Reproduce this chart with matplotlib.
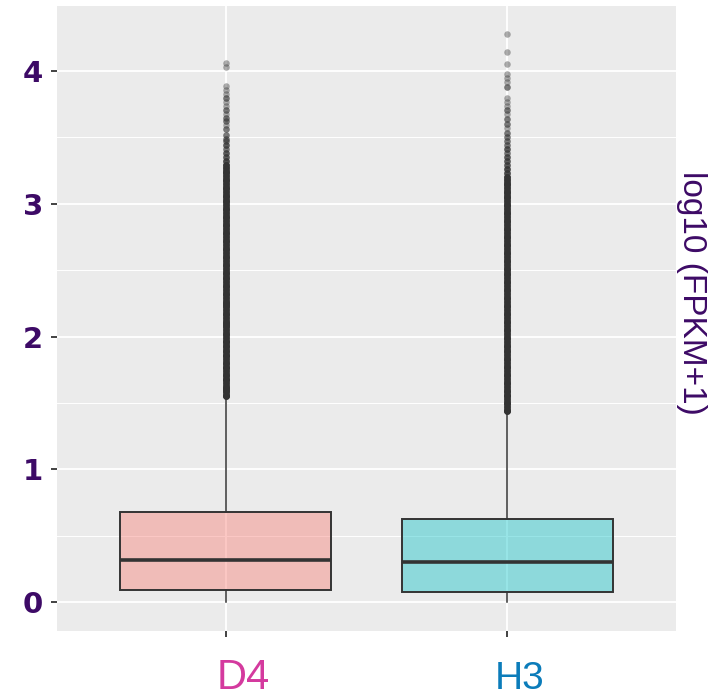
import numpy as np
import matplotlib
matplotlib.use("Agg")
import matplotlib.pyplot as plt

# log10(FPKM+1) summary per sample
samples = ["D4", "H3"]
q1 = [0.09, 0.075]
medians = [0.316, 0.30]
q3 = [0.678, 0.625]
whis_lo = [0.0, 0.0]
whis_hi = [1.545, 1.43]

# outlying genes (value, how many genes sit at that value)
d4_out = [1.55, 1.56, 1.58, 1.60, 1.61, 1.63, 1.65, 1.67, 1.68, 1.70, 1.72, 1.74,
          1.76, 1.77, 1.79, 1.81, 1.83, 1.85, 1.86, 1.88, 1.90, 1.92, 1.94, 1.96,
          1.97, 1.99, 2.01, 2.03, 2.05, 2.07, 2.09, 2.10, 2.12, 2.14, 2.16, 2.18,
          2.20, 2.22, 2.24, 2.25, 2.27, 2.29, 2.31, 2.33, 2.35, 2.37, 2.39, 2.41,
          2.43, 2.45, 2.47, 2.49, 2.51, 2.53, 2.55, 2.57, 2.59, 2.61, 2.63, 2.65,
          2.67, 2.69, 2.71, 2.73, 2.75, 2.77, 2.79, 2.81, 2.83, 2.85, 2.87, 2.89,
          2.91, 2.93, 2.95, 2.97, 2.99, 3.01, 3.03, 3.05, 3.07, 3.09, 3.11, 3.13,
          3.15, 3.17, 3.19, 3.21, 3.23, 3.25, 3.27, 3.29,
          3.32, 3.35, 3.38, 3.41, 3.44, 3.47, 3.49, 3.52, 3.56, 3.59, 3.62, 3.65,
          3.68, 3.71, 3.74, 3.77, 3.80, 3.83, 3.86, 3.89, 4.03, 4.06]
d4_cnt = [7] * 92 + [4, 3, 3, 2, 3, 2, 2, 2, 2, 1, 2, 2, 1, 2, 1, 1, 2, 1, 1, 1, 1, 1]

h3_out = [1.44, 1.45, 1.47, 1.49, 1.51, 1.53, 1.55, 1.56, 1.58, 1.60, 1.62, 1.64,
          1.66, 1.68, 1.70, 1.72, 1.74, 1.76, 1.78, 1.80, 1.82, 1.84, 1.86, 1.88,
          1.90, 1.92, 1.94, 1.96, 1.98, 2.00, 2.02, 2.04, 2.06, 2.08, 2.10, 2.12,
          2.14, 2.16, 2.18, 2.20, 2.22, 2.24, 2.26, 2.28, 2.30, 2.32, 2.34, 2.36,
          2.38, 2.40, 2.42, 2.44, 2.46, 2.48, 2.50, 2.52, 2.54, 2.56, 2.58, 2.60,
          2.62, 2.64, 2.66, 2.68, 2.70, 2.72, 2.74, 2.76, 2.78, 2.80, 2.82, 2.84,
          2.86, 2.88, 2.90, 2.92, 2.94, 2.96, 2.98, 3.00, 3.02, 3.04, 3.06, 3.08,
          3.10, 3.12, 3.14, 3.16, 3.18, 3.20,
          3.23, 3.26, 3.29, 3.32, 3.35, 3.38, 3.41, 3.44, 3.47, 3.50, 3.53, 3.57,
          3.60, 3.64, 3.68, 3.71, 3.74, 3.77, 3.80, 3.88, 3.92, 3.95, 3.98, 4.05,
          4.14, 4.28]
h3_cnt = [7] * 90 + [4, 4, 3, 3, 3, 2, 3, 2, 2, 2, 2, 1, 2, 2, 1, 2, 1, 1, 1,
                     2, 1, 1, 1, 1, 1, 1]

fill_colors = ["#F8766D", "#00BFC4"]
label_colors = ["#D43A9E", "#0B7CBA"]
purple = "#3D0A66"

stats = []
for i, name in enumerate(samples):
    outs = [d4_out, h3_out][i]
    cnts = [d4_cnt, h3_cnt][i]
    stats.append({
        "label": name,
        "q1": q1[i], "med": medians[i], "q3": q3[i],
        "whislo": whis_lo[i], "whishi": whis_hi[i],
        "fliers": np.repeat(outs, cnts),
    })

fig = plt.figure(figsize=(7.11, 6.99), dpi=100)
ax = fig.add_axes([57 / 711, 68 / 699, 619 / 711, 625 / 699])
ax.set_facecolor("#EBEBEB")
for s in ax.spines.values():
    s.set_visible(False)

# ggplot-like grid
for y in [0, 1, 2, 3, 4]:
    ax.axhline(y, color="white", lw=1.3, zorder=0)
for y in [0.5, 1.5, 2.5, 3.5]:
    ax.axhline(y, color="white", lw=0.7, zorder=0)
for x in [1, 2]:
    ax.axvline(x, color="white", lw=1.3, zorder=0)

bp = ax.bxp(stats, positions=[1, 2], widths=0.75, patch_artist=True,
            showcaps=False,
            boxprops=dict(edgecolor="#333333", linewidth=1.4),
            medianprops=dict(color="#333333", linewidth=2.6),
            whiskerprops=dict(color="#333333", linewidth=1.1),
            flierprops=dict(marker="o", markersize=4.7, markerfacecolor="#333333",
                            markeredgecolor="none", alpha=0.4))
for patch, c in zip(bp["boxes"], fill_colors):
    patch.set_facecolor(matplotlib.colors.to_rgba(c, 0.4))
    patch.set_zorder(2)

ax.set_xlim(0.4, 2.6)
ax.set_ylim(-0.218, 4.49)
ax.set_yticks([0, 1, 2, 3, 4])
ax.set_yticklabels(["0", "1", "2", "3", "4"], fontsize=21, fontweight="bold",
                   color=purple, family="DejaVu Sans")
ax.set_xticks([1, 2])
ax.set_xticklabels([])
ax.tick_params(axis="both", length=4, width=1.3, color="#333333")
ax.tick_params(axis="y", pad=6)

# sample names and axis title
label_font = ["Liberation Sans", "DejaVu Sans"]
fig.text(217 / 711, 10 / 699, samples[0], fontsize=30, color=label_colors[0],
         family=label_font, ha="left", va="baseline")
fig.text(495 / 711, 10 / 699, samples[1], fontsize=28, color=label_colors[1],
         family=label_font, ha="left", va="baseline")
fig.text(691 / 711, 1 - 293 / 699, "log10 (FPKM+1)", fontsize=24, color=purple,
         family=label_font, rotation=270, ha="center", va="center")

fig.savefig("out.png", dpi=100)
